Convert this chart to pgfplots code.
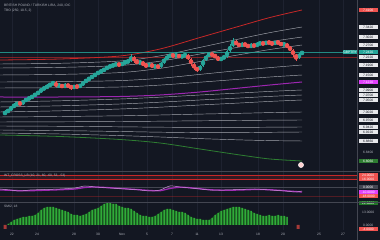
\documentclass[border=0pt]{standalone}
\usepackage{fontspec}
\setmainfont{Liberation Sans}
\usepackage{pgfplots}
\usepackage{pgfplotstable}
\pgfplotsset{compat=1.18}

\definecolor{bg}{HTML}{131722}
\definecolor{gridc}{HTML}{1E2230}
\definecolor{sepc}{HTML}{434651}
\definecolor{upc}{HTML}{26A69A}
\definecolor{dnc}{HTML}{EF5350}
\definecolor{bandc}{HTML}{D6D8DE}
\definecolor{redl}{HTML}{C62828}
\definecolor{purl}{HTML}{9C27B0}
\definecolor{lavl}{HTML}{CE93D8}
\definecolor{magl}{HTML}{E040FB}
\definecolor{grnl}{HTML}{2E7D32}
\definecolor{histc}{HTML}{3DDC47}
\definecolor{histf}{HTML}{1B5E20}
\definecolor{txtc}{HTML}{B2B5BE}
\definecolor{lblbg}{HTML}{E6E7EB}
\definecolor{lbltx}{HTML}{131722}

\newcommand\tf{\fontsize{3.3}{3.6}\selectfont}

% 240-minute candles: x position, open, high, low, close
\pgfplotstableread{
x o h l c
5 6.994 7.008 6.988 7.002
8 7.002 7.015 6.998 7.010
11 7.010 7.027 7.006 7.022
14 7.022 7.036 7.018 7.030
17 7.030 7.043 7.026 7.038
20 7.038 7.044 7.029 7.034
23 7.034 7.051 7.031 7.046
26 7.046 7.059 7.042 7.054
29 7.054 7.064 7.049 7.058
32 7.058 7.071 7.054 7.066
35 7.066 7.080 7.062 7.074
38 7.074 7.087 7.070 7.082
41 7.082 7.099 7.078 7.094
44 7.094 7.104 7.089 7.098
47 7.098 7.112 7.094 7.106
50 7.106 7.120 7.101 7.114
53 7.114 7.126 7.110 7.118
56 7.118 7.124 7.100 7.106
59 7.106 7.116 7.101 7.110
62 7.110 7.115 7.097 7.102
65 7.102 7.116 7.098 7.110
68 7.110 7.114 7.100 7.106
71 7.106 7.112 7.092 7.098
74 7.098 7.111 7.094 7.106
77 7.106 7.110 7.097 7.102
80 7.102 7.115 7.098 7.110
83 7.110 7.127 7.106 7.122
86 7.122 7.135 7.118 7.130
89 7.130 7.144 7.126 7.138
92 7.138 7.151 7.134 7.146
95 7.146 7.160 7.141 7.154
98 7.154 7.167 7.150 7.162
101 7.162 7.172 7.157 7.166
104 7.166 7.180 7.162 7.174
107 7.174 7.187 7.170 7.182
110 7.182 7.192 7.177 7.186
113 7.186 7.196 7.181 7.190
116 7.190 7.200 7.186 7.194
119 7.194 7.199 7.184 7.190
122 7.190 7.203 7.186 7.198
125 7.198 7.208 7.193 7.202
128 7.202 7.212 7.197 7.206
131 7.206 7.232 7.202 7.222
134 7.222 7.228 7.200 7.206
137 7.206 7.212 7.192 7.198
140 7.198 7.208 7.193 7.202
143 7.202 7.206 7.185 7.190
146 7.190 7.196 7.180 7.186
149 7.186 7.199 7.182 7.194
152 7.194 7.198 7.177 7.182
155 7.182 7.192 7.178 7.186
158 7.186 7.190 7.176 7.182
161 7.182 7.203 7.178 7.198
164 7.198 7.219 7.194 7.214
167 7.214 7.228 7.210 7.222
170 7.222 7.236 7.218 7.230
173 7.230 7.235 7.220 7.226
176 7.226 7.236 7.222 7.230
179 7.230 7.234 7.217 7.222
182 7.222 7.232 7.218 7.226
185 7.226 7.238 7.222 7.230
188 7.230 7.234 7.209 7.214
191 7.214 7.218 7.188 7.194
194 7.194 7.198 7.172 7.178
197 7.178 7.184 7.164 7.170
200 7.170 7.191 7.166 7.186
203 7.186 7.215 7.182 7.210
206 7.210 7.231 7.206 7.226
209 7.226 7.240 7.222 7.234
212 7.234 7.239 7.225 7.230
215 7.230 7.235 7.217 7.222
218 7.222 7.226 7.205 7.210
221 7.210 7.223 7.206 7.218
224 7.218 7.228 7.214 7.222
227 7.222 7.251 7.218 7.246
230 7.246 7.272 7.242 7.266
233 7.266 7.298 7.262 7.282
236 7.282 7.288 7.268 7.274
239 7.274 7.280 7.261 7.266
242 7.266 7.280 7.262 7.274
245 7.274 7.279 7.265 7.270
248 7.270 7.275 7.257 7.262
251 7.262 7.276 7.258 7.270
254 7.270 7.275 7.261 7.266
257 7.266 7.280 7.262 7.274
260 7.274 7.284 7.270 7.278
263 7.278 7.283 7.269 7.274
266 7.274 7.288 7.270 7.282
269 7.282 7.287 7.273 7.278
272 7.278 7.283 7.269 7.274
275 7.274 7.288 7.270 7.282
278 7.282 7.287 7.273 7.278
281 7.278 7.283 7.265 7.270
284 7.270 7.280 7.266 7.274
287 7.274 7.278 7.257 7.262
290 7.262 7.266 7.245 7.250
293 7.250 7.254 7.224 7.230
296 7.230 7.234 7.206 7.218
299 7.218 7.239 7.214 7.234
302 7.234 7.247 7.230 7.242
}\candles

% deviation bands around the trend line
\pgfplotstableread{
x red u5 u4 u3 u2 u1 pur d1 d2 d3 d4 d5 d6 d7 d8 grn
0 7.210 7.194 7.178 7.150 7.122 7.098 7.062 7.042 7.022 7.002 6.982 6.962 6.946 6.930 6.918 6.910
60 7.214 7.1968 7.1804 7.1524 7.1232 7.0992 7.062 7.0468 7.0268 7.0068 6.984 6.9628 6.9448 6.9276 6.914 6.904
120 7.226 7.206 7.188 7.1596 7.1276 7.102 7.064 7.054 7.034 7.014 6.9868 6.964 6.9428 6.924 6.9076 6.892
160 7.254 7.2264 7.2052 7.1764 7.1368 7.1096 7.070 7.0612 7.0412 7.0212 6.990 6.9652 6.9412 6.9212 6.902 6.878
200 7.300 7.2604 7.234 7.204 7.1524 7.1212 7.082 7.070 7.050 7.030 6.9936 6.9668 6.9404 6.9196 6.8956 6.854
240 7.346 7.2948 7.2624 7.2316 7.1684 7.1332 7.098 7.078 7.058 7.038 6.9968 6.968 6.9404 6.9196 6.8904 6.830
270 7.380 7.3196 7.2832 7.252 7.1796 7.142 7.110 7.0844 7.0644 7.0444 6.9996 6.9692 6.9412 6.9208 6.8876 6.814
302 7.410 7.342 7.302 7.270 7.190 7.150 7.122 7.090 7.070 7.050 7.002 6.970 6.942 6.922 6.886 6.806
}\bands

% WaveTrend oscillator
\pgfplotstableread{
x w1 w2
0 -4 -6
10 -6 -6.5
20 -8 -7.5
30 -6 -7.5
45 -5 -6.5
60 -4 -5.5
75 -2 -4
85 2 -1
95 0 0
110 -2 -1.5
125 -4 -3.5
140 -6 -5.5
150 -8 -7
160 -6 -7.5
170 2 -3
180 0 -0.5
190 -2 -1.5
200 -4 -3.5
210 -6 -5.5
225 -6 -6.5
240 -5 -6
255 -4 -5
270 -6 -5.5
285 -8 -7.5
295 -10 -9
302 -8 -10
}\wt

% momentum histogram
\pgfplotstableread{
x v
8 1
11 3
14 5
17 6
20 7
23 8
26 8
29 9
32 9
35 10
38 12
41 15
44 17
47 18
50 18
53 18
56 17
59 16
62 15
65 14
68 13
71 11
74 10
77 10
80 9
83 10
86 11
89 13
92 15
95 16
98 17
101 19
104 21
107 22
110 22
113 21
116 21
119 19
122 18
125 17
128 17
131 16
134 14
137 12
140 10
143 9
146 9
149 8
152 8
155 9
158 11
161 13
164 15
167 16
170 16
173 15
176 14
179 13
182 13
185 12
188 10
191 8
194 7
197 6
200 6
203 5
206 5
209 5
212 7
215 10
218 12
221 14
224 15
227 16
230 17
233 18
236 18
239 18
242 17
245 16
248 15
251 14
254 12
257 11
260 10
263 9
266 9
269 10
272 9
275 9
278 10
281 9
284 9
287 8
}\hist

\pgfplotsset{
  pane/.style={
    scale only axis, width=357pt, anchor=south west,
    xmin=0, xmax=357, clip=false,
    axis line style={draw=none}, major tick length=0pt,
    xtick={12,37,74,98,122,147,172,197,221,258,283,319,343},
    xticklabels={}, ytick=\empty,
    xmajorgrids, major grid style={gridc, line width=0.5pt},
  },
  candle/.style n args={3}{
    only marks, mark=none, color=#1,
    restrict expr to domain={\thisrow{c}-\thisrow{o}}{#2},
    error bars/.cd, y dir=both, y explicit, error mark=none,
    error bar style={color=#1, line width=#3},
  },
}
\tikzset{
  plbl/.style={anchor=west, inner sep=0pt, minimum width=19pt,
    minimum height=4.4pt, font=\tf, fill=lblbg, text=lbltx, xshift=1.5pt},
  band/.style={bandc, opacity=0.75, line width=0.45pt, smooth},
}

\begin{document}
\begin{tikzpicture}[x=1pt,y=1pt]
\useasboundingbox (0,0) rectangle (380,240);
\fill[bg] (0,0) rectangle (380,240);

% ---------------- price pane ----------------
\begin{axis}[pane, at={(0pt,69pt)}, height=171pt, ymin=6.766, ymax=7.45]
  \foreach \c in {u5,u4,u3,u2,u1,d1,d2,d3,d4,d5,d6,d7,d8}{
    \addplot[band] table[x=x,y=\c]{\bands};
  }
  \addplot[redl, line width=0.8pt, smooth] table[x=x,y=red]{\bands};
  \addplot[purl, line width=1pt, smooth] table[x=x,y=pur]{\bands};
  \addplot[grnl, line width=0.8pt, smooth] table[x=x,y=grn]{\bands};
  \addplot[redl, opacity=0.6, line width=0.4pt] coordinates {(0,7.222) (357,7.222)};
  \addplot[upc, opacity=0.8, line width=0.35pt] coordinates {(0,7.242) (357,7.242)};
  % wicks
  \addplot[candle={upc}{0:1}{0.4pt}]
    table[x=x, y expr={(\thisrow{h}+\thisrow{l})/2}, y error expr={(\thisrow{h}-\thisrow{l})/2}]{\candles};
  \addplot[candle={dnc}{-1:-0.0001}{0.4pt}]
    table[x=x, y expr={(\thisrow{h}+\thisrow{l})/2}, y error expr={(\thisrow{h}-\thisrow{l})/2}]{\candles};
  % bodies
  \addplot[candle={upc}{0:1}{1.5pt}]
    table[x=x, y expr={(\thisrow{o}+\thisrow{c})/2}, y error expr={max(abs(\thisrow{c}-\thisrow{o})/2,0.0006)}]{\candles};
  \addplot[candle={dnc}{-1:-0.0001}{1.5pt}]
    table[x=x, y expr={(\thisrow{o}+\thisrow{c})/2}, y error expr={max(abs(\thisrow{c}-\thisrow{o})/2,0.0006)}]{\candles};
  \addplot[only marks, mark=*, mark size=2.6pt, mark options={fill=pink!70!white, draw=white, line width=0.4pt}]
    coordinates {(301,6.790)};
  % price scale labels
  \node[plbl, fill=dnc, text=white] at (axis cs:357,7.410) {7.4100};
  \node[plbl] at (axis cs:357,7.342) {7.3420};
  \node[plbl] at (axis cs:357,7.302) {7.3020};
  \node[plbl] at (axis cs:357,7.270) {7.2700};
  \node[plbl] at (axis cs:357,7.222) {7.2220};
  \node[plbl, fill=upc, text=white] at (axis cs:357,7.242) {7.2420};
  \node[anchor=east, inner sep=0pt, minimum width=12pt, minimum height=4.4pt, font=\tf, fill=upc, text=white] at (axis cs:357,7.242) {GBPTRY};
  \node[plbl] at (axis cs:357,7.190) {7.1900};
  \node[plbl] at (axis cs:357,7.150) {7.1500};
  \node[plbl, fill=magl, text=white] at (axis cs:357,7.122) {7.1220};
  \node[plbl] at (axis cs:357,7.090) {7.0900};
  \node[plbl] at (axis cs:357,7.070) {7.0700};
  \node[plbl] at (axis cs:357,7.050) {7.0500};
  \node[plbl] at (axis cs:357,7.002) {7.0020};
  \node[plbl] at (axis cs:357,6.970) {6.9700};
  \node[plbl] at (axis cs:357,6.942) {6.9420};
  \node[plbl] at (axis cs:357,6.922) {6.9220};
  \node[plbl] at (axis cs:357,6.886) {6.8860};
  \node[plbl, fill=none, text=txtc] at (axis cs:357,6.840) {6.8400};
  \node[plbl, fill=grnl, text=white] at (axis cs:357,6.806) {6.8060};
\end{axis}

% ---------------- oscillator pane ----------------
\begin{axis}[pane, at={(0pt,38pt)}, height=31pt, ymin=-30, ymax=32]
  \addplot[draw=none, fill=redl, fill opacity=0.18] coordinates {(0,16) (357,16) (357,24) (0,24) (0,16)};
  \addplot[redl, line width=0.5pt] coordinates {(0,24) (357,24)};
  \addplot[redl, line width=0.5pt] coordinates {(0,16) (357,16)};
  \addplot[sepc, line width=0.3pt] coordinates {(0,0) (357,0)};
  \addplot[redl, opacity=0.35, line width=0.3pt] coordinates {(0,-18) (357,-18)};
  \addplot[purl, line width=1.3pt, smooth] table[x=x,y=w2]{\wt};
  \addplot[lavl, line width=0.5pt, smooth] table[x=x,y=w1]{\wt};
  \node[anchor=west, font=\tf, text=txtc, inner sep=0pt] at (rel axis cs:0,1) [xshift=4pt, yshift=-4.5pt] {WT\_CROSS\_LB (10, 21, 60, -60, 53, -53)};
  \node[plbl, fill=dnc, text=white] at (axis cs:357,24) {24.0000};
  \node[plbl, fill=dnc, text=white] at (axis cs:357,16) {16.0000};
  \node[plbl, fill=sepc, text=white] at (axis cs:357,0) {0.0000};
  \node[plbl, fill=magl, text=white] at (axis cs:357,-10) {-10.0000};
  \node[plbl, fill=dnc, text=white] at (axis cs:357,-18) {-18.0000};
\end{axis}

% ---------------- momentum pane ----------------
\begin{axis}[pane, at={(0pt,10pt)}, height=28pt, ymin=-5, ymax=23,
    xticklabels={22,24,28,30,Nov,5,7,11,13,18,20,25,27},
    xticklabel style={font=\tf, text=txtc, anchor=center, yshift=-4pt}]
  \addplot[draw=none, fill=histf, fill opacity=0.85] table[x=x,y=v]{\hist} \closedcycle;
  \addplot[ybar, bar width=1pt, bar shift=0pt, fill=histc, draw=none] table[x=x,y=v]{\hist};
  \addplot[ybar, bar width=3pt, bar shift=0pt, fill=dnc!70!black, draw=none] coordinates {(5,-4) (298,-4)};
  \node[anchor=west, font=\tf, text=txtc, inner sep=0pt] at (rel axis cs:0,1) [xshift=4pt, yshift=-4.5pt] {SMI2, 18};
  \node[plbl, fill=histf!80!histc, text=white] at (axis cs:357,22) {22.0000};
  \node[plbl, fill=none, text=txtc] at (axis cs:357,13) {13.0000};
  \node[plbl, fill=none, text=txtc] at (axis cs:357,0) {0.0000};
  \node[plbl, fill=dnc, text=white] at (axis cs:357,-4) {-4.0000};
\end{axis}

% pane frames
\draw[sepc, line width=0.6pt] (0,69) -- (380,69);
\draw[sepc, line width=0.6pt] (0,38) -- (380,38);
\draw[sepc, line width=0.4pt] (357,0) -- (357,240);

% header
\node[anchor=west, font=\tf, text=txtc, inner sep=0pt] at (4,234.5) {BRITISH POUND / TURKISH LIRA, 240, IDC};
\node[anchor=west, font=\tf, text=txtc, inner sep=0pt] at (4,229) {TBO (250, 10.5, 2)};
\end{tikzpicture}
\end{document}
